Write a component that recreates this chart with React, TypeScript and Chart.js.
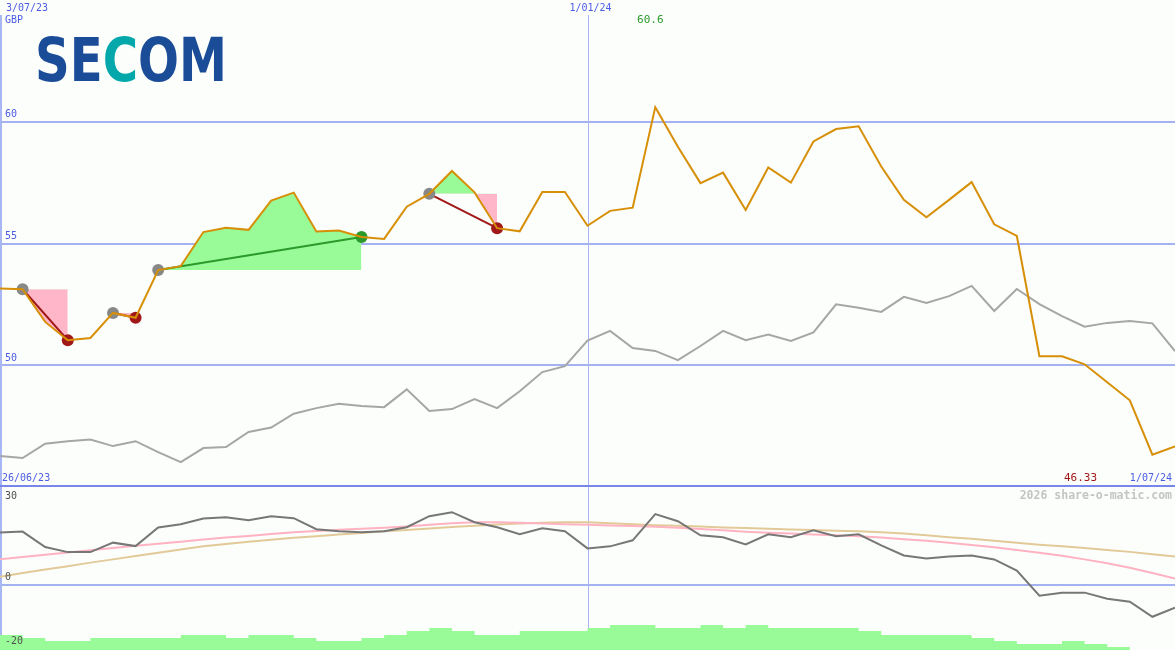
import React, { useEffect, useRef } from 'react';
import { Chart, registerables } from 'chart.js';
Chart.register(...registerables);

// ---------- data ----------
const startDate = '3/07/23';
const startDateLower = '26/06/23';
const midDate = '1/01/24';
const endDate = '1/07/24';
const currency = 'GBP';
const priceTicks = [50, 55, 60];
const oscTicks = [30, 0, -20];

const price = [
  53.15, 53.12, 51.78, 51.03, 51.12, 52.15, 51.95, 53.91, 54.07, 55.47,
  55.65, 55.56, 56.76, 57.09, 55.49, 55.53, 55.27, 55.19, 56.51, 57.04,
  57.98, 57.1, 55.63, 55.5, 57.12, 57.12, 55.73, 56.34, 56.47, 60.6,
  58.97, 57.48, 57.91, 56.38, 58.12, 57.5, 59.19, 59.7, 59.81, 58.16,
  56.79, 56.08, 56.79, 57.52, 55.79, 55.31, 50.37, 50.37, 50.04, 49.3,
  48.56, 46.33, 46.67,
];

const relative = [
  46.27, 46.19, 46.78, 46.88, 46.95, 46.68, 46.88, 46.43, 46.02, 46.6,
  46.64, 47.26, 47.44, 48.01, 48.24, 48.42, 48.33, 48.28, 49.01, 48.12,
  48.2, 48.61, 48.24, 48.93, 49.72, 49.96, 51.01, 51.41, 50.71, 50.59,
  50.21, 50.79, 51.41, 51.03, 51.26, 51.0, 51.35, 52.5, 52.36, 52.19,
  52.81, 52.56, 52.84, 53.26, 52.23, 53.13, 52.51, 52.02, 51.58, 51.74,
  51.82, 51.72, 50.58,
];

const tradeStarts = [1, 5, 7, 19];
const tradeEnds = [3, 6, 16, 22];

const momentum = [
  16.02, 16.33, 11.57, 10.03, 10.03, 12.93, 11.88, 17.56, 18.58, 20.34,
  20.74, 19.81, 21.05, 20.43, 17.04, 16.42, 16.11, 16.42, 17.65, 21.05,
  22.28, 19.2, 17.65, 15.49, 17.35, 16.42, 11.17, 11.79, 13.64, 21.67,
  19.51, 15.19, 14.57, 12.41, 15.49, 14.57, 16.73, 14.88, 15.49, 12.1,
  9.01, 8.09, 8.7, 9.01, 7.78, 4.38, -3.33, -2.41, -2.41, -4.26,
  -5.19, -9.81, -7.04,
];

const avgFast = [
  7.8, 8.5, 9.2, 9.9, 10.6, 11.3, 12.0, 12.6, 13.2, 13.9,
  14.5, 15.0, 15.6, 16.1, 16.5, 16.9, 17.2, 17.5, 17.9, 18.4,
  18.9, 19.2, 19.2, 19.0, 18.8, 18.6, 18.4, 18.2, 18.0, 17.8,
  17.5, 17.1, 16.7, 16.3, 16.0, 15.7, 15.4, 15.2, 14.9, 14.5,
  14.0, 13.5, 12.9, 12.2, 11.5, 10.7, 9.8, 8.9, 7.8, 6.6,
  5.2, 3.6, 1.9,
];

const avgSlow = [
  2.5, 3.6, 4.7, 5.7, 6.8, 7.8, 8.8, 9.8, 10.8, 11.8,
  12.5, 13.2, 13.8, 14.4, 14.9, 15.4, 15.9, 16.4, 16.8, 17.3,
  17.7, 18.1, 18.5, 18.8, 19.0, 19.2, 19.2, 18.9, 18.6, 18.3,
  18.1, 17.9, 17.6, 17.4, 17.2, 17.0, 16.8, 16.6, 16.4, 16.1,
  15.7, 15.2, 14.6, 14.1, 13.5, 12.9, 12.3, 11.8, 11.3, 10.7,
  10.1, 9.4, 8.7,
];

const volume = [
  5, 4, 3, 3, 4, 4, 4, 4, 5, 5,
  4, 5, 5, 4, 3, 3, 4, 5, 6.3, 7.3,
  6.3, 5, 5, 6.3, 6.3, 6.3, 7.3, 8.3, 8.3, 7.3,
  7.3, 8.3, 7.3, 8.3, 7.3, 7.3, 7.3, 7.3, 6.3, 5,
  5, 5, 5, 4, 3, 2, 2, 3, 2, 1,
  0, 0, 0,
];

// ---------- styles ----------
const W = 1175;
const TOP_H = 487;
const BOT_H = 163;
const BG = '#fcfefc';
const GRID = '#a4b2f2';
const VGRID = '#a8b6f6';
const SEP = '#7886ec';
const BLUE_TXT = '#4c5ce4';
const ORANGE = '#d68f06';
const REL = '#a6a6a6';
const DARKRED = '#a01818';
const WIN = '#2b9a2b';
const START_DOT = '#888888';
const PALEGREEN = '#98fb98';
const LIGHTPINK = '#ffb6c8';
const MONO = '"DejaVu Sans Mono", monospace';

const pts = (arr: number[]) => arr.map((y, i) => ({ x: i, y }));

function drawText(ctx: CanvasRenderingContext2D, t: string, x: number, y: number, color: string, font: string, align: CanvasTextAlign = 'left') {
  ctx.save();
  ctx.font = font;
  ctx.fillStyle = color;
  ctx.textAlign = align;
  ctx.textBaseline = 'middle';
  ctx.fillText(t, x, y);
  ctx.restore();
}

const topDecor = {
  id: 'topDecor',
  beforeDraw(chart: any) {
    const { ctx } = chart;
    ctx.save();
    ctx.fillStyle = BG;
    ctx.fillRect(0, 0, chart.width, chart.height);
    ctx.restore();
  },
  beforeDatasetsDraw(chart: any) {
    const { ctx, scales } = chart;
    const ys = scales.y;
    const xs = scales.x;
    ctx.save();
    ctx.fillStyle = GRID;
    priceTicks.forEach((v) => {
      const y = Math.round(ys.getPixelForValue(v));
      ctx.fillRect(0, y - 1, W, 2);
    });
    ctx.fillStyle = VGRID;
    const vx = Math.round(xs.getPixelForValue(26));
    ctx.fillRect(vx, 15, 1, chart.height - 15);
    ctx.fillRect(0, 15, 2, chart.height - 15);
    ctx.restore();
  },
  afterDatasetsDraw(chart: any) {
    const { ctx, scales } = chart;
    const ys = scales.y;
    const xs = scales.x;
    ctx.save();
    ctx.fillStyle = SEP;
    ctx.fillRect(0, chart.height - 2, W, 2);
    ctx.restore();
    const f10 = `10px ${MONO}`;
    drawText(ctx, startDate, 6, 8, BLUE_TXT, f10);
    drawText(ctx, currency, 5, 20, BLUE_TXT, f10);
    drawText(ctx, midDate, xs.getPixelForValue(26) + 3, 8, BLUE_TXT, f10, 'center');
    priceTicks.forEach((v) => {
      drawText(ctx, String(v), 5, ys.getPixelForValue(v) - 7, BLUE_TXT, f10);
    });
    drawText(ctx, startDateLower, 2, chart.height - 9, BLUE_TXT, f10);
    drawText(ctx, endDate, W - 3, chart.height - 9, BLUE_TXT, f10, 'right');
    let hi = 0, lo = 0;
    price.forEach((p, i) => { if (p > price[hi]) hi = i; if (p < price[lo]) lo = i; });
    drawText(ctx, price[hi].toFixed(1), xs.getPixelForValue(hi) - 5, 20, WIN, `11px ${MONO}`, 'center');
    drawText(ctx, price[lo].toFixed(2), W - 78, chart.height - 9, DARKRED, `11px ${MONO}`, 'right');
    // logo
    ctx.save();
    ctx.font = `bold 60px "DejaVu Sans", sans-serif`;
    ctx.textBaseline = 'alphabetic';
    const parts: [string, string][] = [['SE', '#1b4c98'], ['C', '#05a8aa'], ['OM', '#1b4c98']];
    const total = parts.reduce((s, [t]) => s + ctx.measureText(t).width, 0);
    const sx = 192 / total;
    ctx.translate(35, 81);
    ctx.scale(sx, 1);
    let cx = 0;
    parts.forEach(([t, c]) => {
      ctx.fillStyle = c;
      ctx.fillText(t, cx, 0);
      cx += ctx.measureText(t).width;
    });
    ctx.restore();
  },
};

const botDecor = {
  id: 'botDecor',
  beforeDraw(chart: any) {
    const { ctx } = chart;
    ctx.save();
    ctx.fillStyle = BG;
    ctx.fillRect(0, 0, chart.width, chart.height);
    ctx.restore();
  },
  beforeDatasetsDraw(chart: any) {
    const { ctx, scales } = chart;
    ctx.save();
    ctx.fillStyle = GRID;
    const y0 = Math.round(scales.y.getPixelForValue(0));
    ctx.fillRect(0, y0 - 1, W, 2);
    ctx.fillStyle = VGRID;
    const vx = Math.round(scales.x.getPixelForValue(26));
    ctx.fillRect(vx, 0, 1, chart.height);
    ctx.fillRect(0, 0, 2, chart.height);
    ctx.restore();
  },
  afterDatasetsDraw(chart: any) {
    const { ctx } = chart;
    const f10 = `10px ${MONO}`;
    drawText(ctx, String(oscTicks[0]), 5, 9, '#505050', f10);
    drawText(ctx, String(oscTicks[1]), 5, chart.scales.y.getPixelForValue(0) - 7, '#505050', f10);
    drawText(ctx, String(oscTicks[2]), 5, chart.height - 9, '#505050', f10);
    drawText(ctx, '2026 share-o-matic.com', W - 3, 9, '#c4c4c4', `bold 11.5px ${MONO}`, 'right');
  },
};

export default function App() {
  const topRef = useRef<HTMLCanvasElement>(null);
  const botRef = useRef<HTMLCanvasElement>(null);

  useEffect(() => {
    const tradeDiag: any[] = [];
    const tradeFill: any[] = [];
    tradeStarts.forEach((s, k) => {
      const e = tradeEnds[k];
      const win = price[e] >= price[s];
      tradeDiag.push({
        data: [{ x: s, y: price[s] }, { x: e, y: price[e] }],
        borderColor: win ? WIN : DARKRED,
        borderWidth: 2,
        pointRadius: 6,
        pointBorderWidth: 0,
        pointBackgroundColor: [START_DOT, win ? WIN : DARKRED],
        fill: false,
        order: 1,
      });
      tradeFill.push({
        data: price.slice(s, e + 1).map((y, j) => ({ x: s + j, y })),
        borderColor: 'rgba(0,0,0,0)',
        borderWidth: 0,
        pointRadius: 0,
        fill: { target: { value: price[s] }, above: PALEGREEN, below: LIGHTPINK },
        order: 2,
      });
    });

    const top = new Chart(topRef.current!, {
      type: 'line',
      data: {
        datasets: [
          { data: pts(price), borderColor: ORANGE, borderWidth: 2, pointRadius: 0, fill: false, order: 0 },
          ...tradeDiag,
          ...tradeFill,
          { data: pts(relative), borderColor: REL, borderWidth: 2, pointRadius: 0, fill: false, order: 3 },
        ],
      },
      options: {
        animation: false,
        responsive: false,
        devicePixelRatio: 1,
        layout: { padding: 0, autoPadding: false },
        plugins: { legend: { display: false }, tooltip: { enabled: false } },
        scales: {
          x: { type: 'linear', min: 0, max: 52, display: false },
          y: { min: 45, max: 65, display: false },
        },
      },
      plugins: [topDecor],
    });

    const bot = new Chart(botRef.current!, {
      type: 'line',
      data: {
        datasets: [
          { data: pts(momentum), borderColor: '#777777', borderWidth: 2, pointRadius: 0, fill: false, order: 0 },
          { data: pts(avgFast), borderColor: '#ffb2c2', borderWidth: 2, pointRadius: 0, fill: false, order: 1 },
          { data: pts(avgSlow), borderColor: '#e2ca98', borderWidth: 2, pointRadius: 0, fill: false, order: 2 },
          {
            data: pts(volume), yAxisID: 'y2', stepped: 'before', borderColor: 'rgba(0,0,0,0)', borderWidth: 0,
            pointRadius: 0, backgroundColor: PALEGREEN, fill: 'origin', order: 3,
          },
        ],
      },
      options: {
        animation: false,
        responsive: false,
        devicePixelRatio: 1,
        layout: { padding: 0, autoPadding: false },
        plugins: { legend: { display: false }, tooltip: { enabled: false } },
        scales: {
          x: { type: 'linear', min: 0, max: 52, display: false },
          y: { min: -20, max: 30, display: false },
          y2: { min: 0, max: 54, display: false },
        },
      },
      plugins: [botDecor],
    });

    return () => {
      top.destroy();
      bot.destroy();
    };
  }, []);

  return (
    <div style={{ position: 'absolute', left: 0, top: 0, width: W, height: TOP_H + BOT_H, background: BG }}>
      <canvas ref={topRef} width={W} height={TOP_H} style={{ display: 'block', width: W, height: TOP_H }} />
      <canvas ref={botRef} width={W} height={BOT_H} style={{ display: 'block', width: W, height: BOT_H }} />
    </div>
  );
}
